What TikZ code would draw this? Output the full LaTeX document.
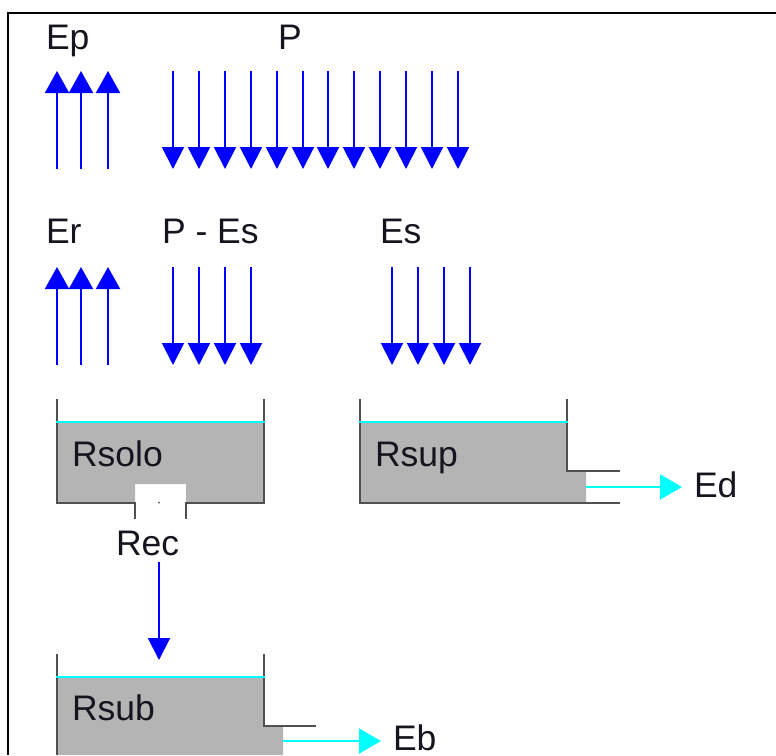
\documentclass[tikz,border=0pt]{standalone}
\usepackage{fontspec}
\setmainfont{Liberation Sans}
\usetikzlibrary{arrows.meta}
\definecolor{tankfill}{HTML}{B4B4B4}
\definecolor{wall}{HTML}{505050}
\definecolor{txt}{HTML}{151520}
\definecolor{flow}{HTML}{0000FF}
\definecolor{water}{HTML}{00FFFF}
\tikzset{
  lbl/.style={anchor=base west,inner sep=0pt,outer sep=0pt,text=txt,font=\fontsize{35.5}{36}\selectfont},
  rain/.style={draw=flow,line width=2pt,-{Triangle[length=22pt,width=22pt,fill=flow]}},
  rainup/.style={draw=flow,line width=2pt,-{Triangle[length=22pt,width=24pt,fill=flow]}},
  outflow/.style={draw=water,line width=2pt,-{Triangle[length=22pt,width=25pt,fill=water]}},
  wallline/.style={draw=wall,line width=2pt},
  level/.style={draw=water,line width=2.2pt},
  tank/.style={fill=tankfill,draw=none}
}
\newcommand{\arrowset}[5]{% style, name, list, from y, to y
  \foreach \ax [count=\ai] in {#3}{
    \coordinate (#2s\ai) at (\ax,#4);
    \coordinate (#2e\ai) at (\ax,#5);
    \draw[#1] (#2s\ai) -- (#2e\ai);
  }}
\begin{document}
\begin{tikzpicture}[x=1pt,y=-1pt]
\useasboundingbox (0,0) rectangle (776,755);
% frame
\coordinate (fa) at (776,13); \coordinate (fb) at (8,13); \coordinate (fc) at (8,755);
\draw[black,line width=2pt] (fa) -- (fb) -- (fc);
% labels
\node[lbl] (ep) at (46,49) {Ep};
\node[lbl] (p) at (278,49) {P};
\node[lbl] (er) at (46,243) {Er};
\node[lbl] (pes) at (162,243) {P - Es};
\node[lbl] (es) at (380,243) {Es};
% arrows
\arrowset{rainup}{epa}{57,81,108}{169}{71}
\arrowset{rain}{pa}{173,199,225,251,277,303,328,354,380,406,432,458}{71}{169}
\arrowset{rainup}{era}{57,81,108}{365}{267}
\arrowset{rain}{pea}{173,199,225,251}{267}{365}
\arrowset{rain}{esa}{392,418,444,470}{267}{365}
% Rsolo
\fill[tank] (57,422) -- (264,422) -- (264,503) -- (186,503) -- (186,484) -- (135,484) -- (135,503) -- (57,503) -- cycle;
\draw[wallline] (57,399) -- (57,503) -- (135,503) -- (135,519);
\draw[wallline] (264,399) -- (264,503) -- (186,503) -- (186,519);
\draw[level] (56,422) -- (265,422);
\fill[wall] (159,502.5) circle (1pt);
\node[lbl] (rsolo) at (72,466) {Rsolo};
\node[lbl] (rec) at (116,555) {Rec};
\coordinate (recs) at (159,562); \coordinate (rece) at (159,660);
\draw[rain] (recs) -- (rece);
% Rsup
\fill[tank] (360,422) -- (567,422) -- (567,471) -- (586,471) -- (586,503) -- (360,503) -- cycle;
\draw[wallline] (360,399) -- (360,503) -- (620,503);
\draw[wallline] (567,399) -- (567,471) -- (620,471);
\draw[level] (359,422) -- (568,422);
\node[lbl] (rsup) at (375,466) {Rsup};
\coordinate (eds) at (586,487);
\node[lbl] (ed) at (694,497) {Ed};
\coordinate (ede) at (682,487);
\draw[outflow] (eds) -- (ede);
% Rsub
\fill[tank] (57,677) -- (264,677) -- (264,726) -- (283,726) -- (283,755) -- (57,755) -- cycle;
\draw[wallline] (57,654) -- (57,755);
\draw[wallline] (264,654) -- (264,726) -- (316,726);
\draw[level] (56,677) -- (265,677);
\node[lbl] (rsub) at (72,720) {Rsub};
\coordinate (ebs) at (283,741);
\node[lbl] (eb) at (393,750) {Eb};
\coordinate (ebe) at (381,741);
\draw[outflow] (ebs) -- (ebe);
\end{tikzpicture}
\end{document}
